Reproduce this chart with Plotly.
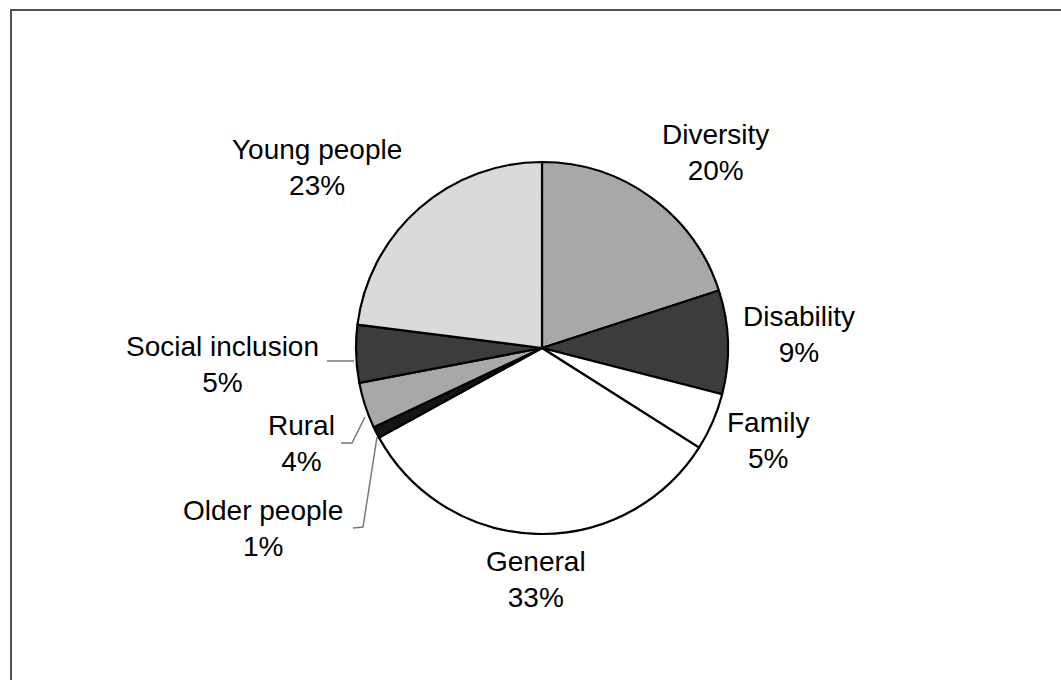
import plotly.graph_objects as go

W, H = 1061, 680

categories = ["Diversity", "Disability", "Family", "General", "Older people",
              "Rural", "Social inclusion", "Young people"]
values = [20, 9, 5, 33, 1, 4, 5, 23]

slice_colors = ["#a8a8a8", "#3c3c3c", "#ffffff", "#ffffff", "#151515",
                "#a8a8a8", "#3c3c3c", "#dadada"]

# label centre positions (pixels) for each category's text block
label_px = {
    "Diversity": (715, 152),
    "Disability": (799, 334),
    "Family": (768, 440),
    "General": (536, 579),
    "Older people": (263, 528),
    "Rural": (301, 443),
    "Social inclusion": (222, 364),
    "Young people": (317, 167),
}

# leader lines (pixels)
leaders = [
    [(327, 361), (354, 361)],
    [(365, 417), (352, 443), (341, 443)],
    [(377, 437), (363, 527), (353, 528)],
]

def px(x):
    return x / W

def py(y):
    return 1 - y / H

cx, cy, r = 542, 348, 186

fig = go.Figure(go.Pie(
    labels=categories,
    values=values,
    sort=False,
    direction="clockwise",
    rotation=0,
    marker=dict(colors=slice_colors, line=dict(color="#000000", width=2.2)),
    textinfo="none",
    hoverinfo="label+percent",
    showlegend=False,
    domain=dict(x=[px(cx - r), px(cx + r)], y=[py(cy + r), py(cy - r)]),
))

total = sum(values)
annotations = []
for cat, v in zip(categories, values):
    x, y = label_px[cat]
    pct = round(100 * v / total)
    annotations.append(dict(
        x=px(x), y=py(y), xref="paper", yref="paper",
        text=f"{cat}<br>{pct}%", showarrow=False,
        xanchor="center", yanchor="middle", align="center",
        font=dict(family="Liberation Sans, Arial, sans-serif", size=28, color="#000000"),
    ))

shapes = [dict(type="rect", xref="paper", yref="paper",
               x0=px(11), y0=py(H + 20), x1=px(W + 20), y1=py(10),
               line=dict(color="#505050", width=2), fillcolor="rgba(0,0,0,0)")]
for pts in leaders:
    path = "M " + " L ".join(f"{px(x)},{py(y)}" for x, y in pts)
    shapes.append(dict(type="path", xref="paper", yref="paper", path=path,
                       line=dict(color="#777777", width=1.5)))

fig.update_layout(
    width=W, height=H,
    margin=dict(l=0, r=0, t=0, b=0),
    paper_bgcolor="#ffffff", plot_bgcolor="#ffffff",
    annotations=annotations, shapes=shapes,
)

fig.write_html("out.html")
